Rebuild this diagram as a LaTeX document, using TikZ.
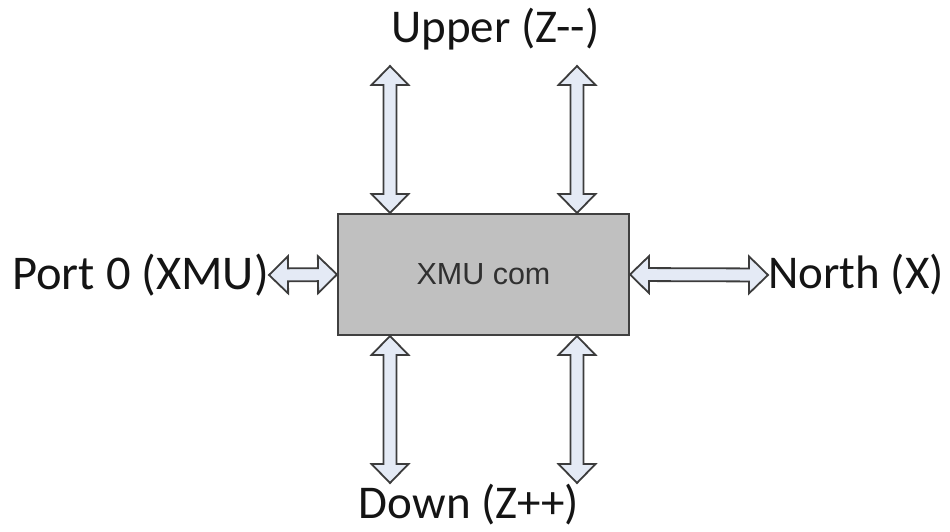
\documentclass[tikz,border=0pt]{standalone}
\usepackage{fontspec}
\setmainfont{Carlito}
\newfontfamily\boxfont{Liberation Sans}
\usetikzlibrary{calc}

% sizes of the hollow double-headed arrows
\def\faHead{19pt}
\def\faHeadHW{18.5pt}
\def\faShaftHW{6.5pt}

% hollow double-headed arrow between two named points
\newcommand\FatLink[2]{%
  \path (#1) coordinate (fa-s) (#2) coordinate (fa-e);
  \path ($(fa-s)!\faHead!(fa-e)$) coordinate (fa-h1)
        ($(fa-e)!\faHead!(fa-s)$) coordinate (fa-h2);
  \filldraw[fatlink] (fa-s)
    -- ($(fa-h1)!\faHeadHW!90:(fa-e)$) -- ($(fa-h1)!\faShaftHW!90:(fa-e)$)
    -- ($(fa-h2)!\faShaftHW!-90:(fa-s)$) -- ($(fa-h2)!\faHeadHW!-90:(fa-s)$)
    -- (fa-e)
    -- ($(fa-h2)!\faHeadHW!90:(fa-s)$) -- ($(fa-h2)!\faShaftHW!90:(fa-s)$)
    -- ($(fa-h1)!\faShaftHW!-90:(fa-e)$) -- ($(fa-h1)!\faHeadHW!-90:(fa-e)$)
    -- cycle;}

\definecolor{linkfill}{HTML}{E4EAF5}
\definecolor{linkline}{HTML}{3C3C3C}
\definecolor{unitfill}{HTML}{C0C0C0}
\definecolor{unitline}{HTML}{404040}
\definecolor{unittext}{HTML}{303030}

\tikzset{
  fatlink/.style={fill=linkfill, draw=linkline, line width=1.8pt, line join=miter},
  unit/.style={draw=unitline, fill=unitfill, line width=2pt,
    minimum width=291pt, minimum height=121pt, inner sep=0pt,
    font=\boxfont\fontsize{30.5}{36}\selectfont, text=unittext},
  portlabel/.style={inner sep=0pt, font=\fontsize{47}{56}\selectfont, text=black!92}
}

\begin{document}
\begin{tikzpicture}[x=1pt,y=-1pt]
  \useasboundingbox (0,0) rectangle (950,532);

  % central unit
  \node[unit] (xmu) at (483.5,274.5) {XMU com};

  % port labels
  \node[portlabel, anchor=base] (upper) at (495.5,43) {Upper (Z-{}-)};
  \node[portlabel, anchor=base] (down) at (469,518) {Down (Z++)};
  \node[portlabel, anchor=east, font=\fontsize{48.5}{58}\selectfont] (port) at (269,275) {Port 0 (XMU)};
  \node[portlabel, anchor=west] (north) at (768,275) {North (X)};

  % free ends of the vertical links
  \coordinate (up1) at (390,66);
  \coordinate (up2) at (577,66);
  \coordinate (dn1) at (390,483);
  \coordinate (dn2) at (577,483);

  % links
  \FatLink{up1}{xmu.north -| up1}
  \FatLink{up2}{xmu.north -| up2}
  \FatLink{dn1}{xmu.south -| dn1}
  \FatLink{dn2}{xmu.south -| dn2}
  \FatLink{port.east}{xmu.west}
  \FatLink{xmu.east}{north.west}
\end{tikzpicture}
\end{document}
